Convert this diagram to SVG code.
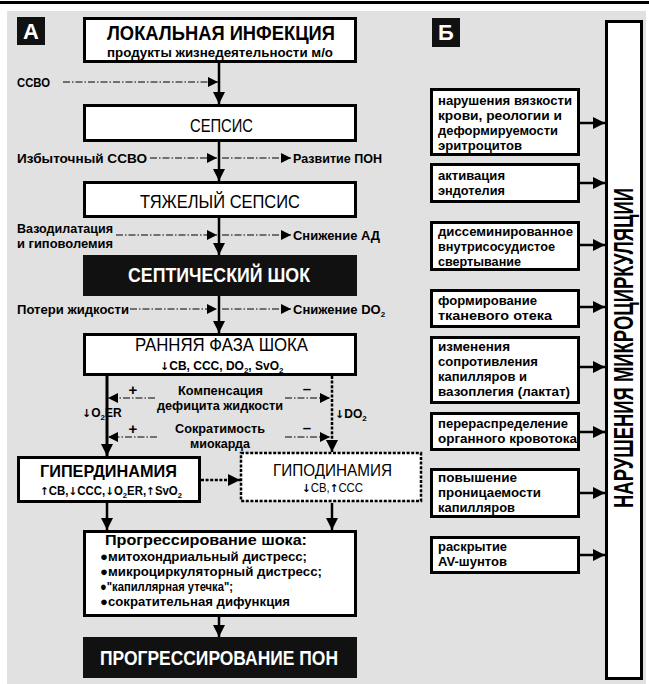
<svg xmlns="http://www.w3.org/2000/svg" width="649" height="684" viewBox="0 0 649 684">
  <defs>
    <style>
      text { font-family: "Liberation Sans", "DejaVu Sans", sans-serif; fill: #000; }
      .b { font-weight: 700; }
      .w { fill: #fff; }
      .ar { font-family: "DejaVu Sans", sans-serif; font-weight: 700; }
      .box { fill: #fff; stroke: #000; stroke-width: 3; }
      .dark { fill: #111; stroke: #111; stroke-width: 3; }
      .dotbox { fill: #fff; stroke: #000; stroke-width: 2.5; stroke-dasharray: 3 1.6; }
      .main { stroke: #000; stroke-width: 2.5; fill: none; }
      .thick { stroke: #000; stroke-width: 3; fill: none; }
      .dot { stroke: #000; stroke-width: 2.5; stroke-dasharray: 3 1.6; fill: none; }
      .dd { stroke: #000; stroke-width: 1; stroke-dasharray: 7 2 1.5 2; fill: none; }
      .side { stroke: #000; stroke-width: 2.5; fill: none; }
      .rt { font-weight: 700; font-size: 13px; }
    </style>
    <marker id="ah" viewBox="0 0 10 10" refX="10" refY="5" markerWidth="12" markerHeight="12" markerUnits="userSpaceOnUse" orient="auto">
      <path d="M0,0 L10,5 L0,10 z" fill="#000"/>
    </marker>
    <marker id="ahs" viewBox="0 0 10 10" refX="10" refY="5" markerWidth="10" markerHeight="10" markerUnits="userSpaceOnUse" orient="auto">
      <path d="M0,0 L10,5 L0,10 z" fill="#000"/>
    </marker>
  </defs>

  <!-- page rule and grey panel -->
  <line x1="0" y1="2.5" x2="649" y2="2.5" stroke="#000" stroke-width="3"/>
  <rect x="7" y="11" width="639" height="673" fill="#e1e1e1"/>

  <!-- panel labels -->
  <g id="label-a">
    <rect x="17" y="17" width="28" height="28" fill="#111"/>
    <text x="31" y="39" class="b w" font-size="22" text-anchor="middle">А</text>
  </g>
  <g id="label-b">
    <rect x="432" y="18" width="28" height="29" fill="#111"/>
    <text x="446" y="40" class="b w" font-size="22" text-anchor="middle">Б</text>
  </g>

  <!-- connectors -->
  <g id="connectors">
    <!-- main axis -->
    <line class="main" x1="219" y1="62" x2="219" y2="104" marker-end="url(#ah)"/>
    <line class="main" x1="219" y1="142" x2="219" y2="181" marker-end="url(#ah)"/>
    <line class="main" x1="219" y1="218" x2="219" y2="255" marker-end="url(#ah)"/>
    <line class="main" x1="219" y1="296" x2="219" y2="333" marker-end="url(#ah)"/>
    <line class="main" x1="219" y1="617" x2="219" y2="637" marker-end="url(#ah)"/>

    <!-- side influences -->
    <line class="dd" x1="63" y1="82" x2="218" y2="82" marker-end="url(#ahs)"/>
    <line class="dd" x1="150" y1="158" x2="217" y2="158" marker-end="url(#ahs)"/>
    <line class="dd" x1="222" y1="158" x2="291" y2="158" marker-end="url(#ahs)"/>
    <line class="dd" x1="116" y1="235" x2="217" y2="235" marker-end="url(#ahs)"/>
    <line class="dd" x1="222" y1="235" x2="291" y2="235" marker-end="url(#ahs)"/>
    <line class="dd" x1="130" y1="309" x2="217" y2="309" marker-end="url(#ahs)"/>
    <line class="dd" x1="222" y1="309" x2="291" y2="309" marker-end="url(#ahs)"/>

    <!-- early shock branches -->
    <line class="thick" x1="107" y1="376" x2="107" y2="456" marker-end="url(#ah)"/>
    <line class="dot" x1="332" y1="376" x2="332" y2="452" marker-end="url(#ah)"/>
    <line class="dd" x1="155" y1="398" x2="108" y2="398" marker-end="url(#ahs)"/>
    <line class="dd" x1="285" y1="398" x2="330" y2="398" marker-end="url(#ahs)"/>
    <line class="dd" x1="157" y1="437" x2="108" y2="437" marker-end="url(#ahs)"/>
    <line class="dd" x1="285" y1="437" x2="330" y2="437" marker-end="url(#ahs)"/>
    <line class="dot" x1="201" y1="480" x2="240" y2="480" marker-end="url(#ah)"/>
    <line class="main" x1="107" y1="503" x2="107" y2="530" marker-end="url(#ah)"/>
    <line class="main" x1="332" y1="503" x2="332" y2="530" marker-end="url(#ah)"/>

    <!-- microcirculation factors -->
    <line class="side" x1="580" y1="123" x2="605" y2="123" marker-end="url(#ah)"/>
    <line class="side" x1="580" y1="183" x2="605" y2="183" marker-end="url(#ah)"/>
    <line class="side" x1="580" y1="245" x2="605" y2="245" marker-end="url(#ah)"/>
    <line class="side" x1="580" y1="307" x2="605" y2="307" marker-end="url(#ah)"/>
    <line class="side" x1="580" y1="367" x2="605" y2="367" marker-end="url(#ah)"/>
    <line class="side" x1="580" y1="432" x2="605" y2="432" marker-end="url(#ah)"/>
    <line class="side" x1="580" y1="493" x2="605" y2="493" marker-end="url(#ah)"/>
    <line class="side" x1="580" y1="555" x2="605" y2="555" marker-end="url(#ah)"/>
  </g>

  <!-- connector labels -->
  <g id="connector-labels">
    <text x="17" y="87" class="b" font-size="12" textLength="33" lengthAdjust="spacingAndGlyphs">ССВО</text>
    <text x="17" y="163" class="b" font-size="13" textLength="130" lengthAdjust="spacingAndGlyphs">Избыточный ССВО</text>
    <text x="293" y="163" class="b" font-size="13" textLength="89" lengthAdjust="spacingAndGlyphs">Развитие ПОН</text>
    <text x="17" y="233" class="b" font-size="13" textLength="96" lengthAdjust="spacingAndGlyphs">Вазодилатация</text>
    <text x="17" y="248" class="b" font-size="13" textLength="96" lengthAdjust="spacingAndGlyphs">и гиповолемия</text>
    <text x="293" y="240" class="b" font-size="13" textLength="87" lengthAdjust="spacingAndGlyphs">Снижение АД</text>
    <text x="17" y="314" class="b" font-size="13" textLength="112" lengthAdjust="spacingAndGlyphs">Потери жидкости</text>
    <text x="293" y="314" class="b" font-size="13">Снижение DO<tspan font-size="8" dy="3">2</tspan></text>

    <text x="82" y="417" class="b" font-size="12"><tspan class="ar" font-size="11">↓</tspan>O<tspan font-size="8" dy="3">2</tspan><tspan dy="-3">ER</tspan></text>
    <text x="335" y="418" class="b" font-size="12"><tspan class="ar" font-size="11">↓</tspan>DO<tspan font-size="8" dy="3">2</tspan></text>

    <text x="133" y="395" class="b" font-size="15" text-anchor="middle">+</text>
    <text x="307" y="394" class="b" font-size="15" text-anchor="middle">–</text>
    <text x="133" y="434" class="b" font-size="15" text-anchor="middle">+</text>
    <text x="307" y="433" class="b" font-size="15" text-anchor="middle">–</text>
    <text x="178" y="395" class="b" font-size="13" textLength="85" lengthAdjust="spacingAndGlyphs">Компенсация</text>
    <text x="157" y="410" class="b" font-size="13" textLength="126" lengthAdjust="spacingAndGlyphs">дефицита жидкости</text>
    <text x="175" y="433" class="b" font-size="13" textLength="90" lengthAdjust="spacingAndGlyphs">Сократимость</text>
    <text x="190" y="448" class="b" font-size="13" textLength="60" lengthAdjust="spacingAndGlyphs">миокарда</text>
  </g>

  <!-- left column nodes -->
  <g id="local-infection">
    <rect class="box" x="84.5" y="18.5" width="271" height="43"/>
    <text x="107" y="40" class="b" font-size="20" textLength="228" lengthAdjust="spacingAndGlyphs">ЛОКАЛЬНАЯ ИНФЕКЦИЯ</text>
    <text x="107" y="57" class="b" font-size="12" textLength="226" lengthAdjust="spacingAndGlyphs">продукты жизнедеятельности м/о</text>
  </g>
  <g id="sepsis">
    <rect class="box" x="84.5" y="105.5" width="271" height="35"/>
    <text x="190" y="132" font-size="19" textLength="63" lengthAdjust="spacingAndGlyphs">СЕПСИС</text>
  </g>
  <g id="severe-sepsis">
    <rect class="box" x="84.5" y="182.5" width="271" height="34"/>
    <text x="140" y="208" font-size="19" textLength="160" lengthAdjust="spacingAndGlyphs">ТЯЖЕЛЫЙ СЕПСИС</text>
  </g>
  <g id="septic-shock">
    <rect class="dark" x="84.5" y="256.5" width="271" height="38"/>
    <text x="128" y="282" class="b w" font-size="20" textLength="182" lengthAdjust="spacingAndGlyphs">СЕПТИЧЕСКИЙ ШОК</text>
  </g>
  <g id="early-shock">
    <rect class="box" x="84.5" y="334.5" width="271" height="40"/>
    <text x="135" y="351" font-size="18" textLength="173" lengthAdjust="spacingAndGlyphs">РАННЯЯ ФАЗА ШОКА</text>
    <text x="160" y="370" class="b" font-size="12"><tspan class="ar" font-size="11">↓</tspan>CB, CCC, DO<tspan font-size="8" dy="2.5">2</tspan><tspan dy="-2.5">, SvO</tspan><tspan font-size="8" dy="2.5">2</tspan></text>
  </g>
  <g id="hyperdynamic">
    <rect class="box" x="18.5" y="457.5" width="181" height="44"/>
    <text x="40" y="477" class="b" font-size="17" textLength="137" lengthAdjust="spacingAndGlyphs">ГИПЕРДИНАМИЯ</text>
    <text x="40" y="495" class="b" font-size="12" textLength="142" lengthAdjust="spacingAndGlyphs"><tspan class="ar" font-size="11">↑</tspan>CB,<tspan class="ar" font-size="11">↓</tspan>CCC,<tspan class="ar" font-size="11">↓</tspan>O<tspan font-size="8" dy="2.5">2</tspan><tspan dy="-2.5">ER,</tspan><tspan class="ar" font-size="11">↑</tspan>SvO<tspan font-size="8" dy="2.5">2</tspan></text>
  </g>
  <g id="hypodynamic">
    <rect class="dotbox" x="241" y="453" width="180" height="48"/>
    <text x="273" y="476" font-size="16" textLength="119" lengthAdjust="spacingAndGlyphs">ГИПОДИНАМИЯ</text>
    <text x="302" y="492" font-size="12" textLength="61" lengthAdjust="spacingAndGlyphs"><tspan class="ar" font-size="11">↓</tspan>CB,<tspan class="ar" font-size="11">↑</tspan>CCC</text>
  </g>
  <g id="shock-progression">
    <rect class="box" x="84.5" y="531.5" width="271" height="84"/>
    <text x="105" y="545" class="b" font-size="14" textLength="202" lengthAdjust="spacingAndGlyphs">Прогрессирование шока:</text>
    <text x="100" y="561" class="b" font-size="13" textLength="207" lengthAdjust="spacingAndGlyphs">●митохондриальный дистресс;</text>
    <text x="100" y="576" class="b" font-size="13" textLength="222" lengthAdjust="spacingAndGlyphs">●микроциркуляторный дистресс;</text>
    <text x="100" y="591" class="b" font-size="13" textLength="133" lengthAdjust="spacingAndGlyphs">●"капиллярная утечка";</text>
    <text x="100" y="606" class="b" font-size="13" textLength="190" lengthAdjust="spacingAndGlyphs">●сократительная дифункция</text>
  </g>
  <g id="mods-progression">
    <rect class="dark" x="84.5" y="638.5" width="271" height="38"/>
    <text x="100" y="665" class="b w" font-size="20" textLength="238" lengthAdjust="spacingAndGlyphs">ПРОГРЕССИРОВАНИЕ ПОН</text>
  </g>

  <!-- right column nodes -->
  <g id="viscosity">
    <rect class="box" x="431.5" y="89.5" width="147" height="65"/>
    <text x="438" y="105" class="rt" textLength="134" lengthAdjust="spacingAndGlyphs">нарушения вязкости</text>
    <text x="438" y="120" class="rt" textLength="124" lengthAdjust="spacingAndGlyphs">крови, реологии и</text>
    <text x="438" y="135" class="rt" textLength="120" lengthAdjust="spacingAndGlyphs">деформируемости</text>
    <text x="438" y="150" class="rt" textLength="84" lengthAdjust="spacingAndGlyphs">эритроцитов</text>
  </g>
  <g id="endothelium">
    <rect class="box" x="431.5" y="164.5" width="147" height="37"/>
    <text x="438" y="180" class="rt" textLength="67" lengthAdjust="spacingAndGlyphs">активация</text>
    <text x="438" y="195" class="rt" textLength="67" lengthAdjust="spacingAndGlyphs">эндотелия</text>
  </g>
  <g id="dic">
    <rect class="box" x="431.5" y="222.5" width="147" height="47"/>
    <text x="438" y="236" class="rt" textLength="135" lengthAdjust="spacingAndGlyphs">диссеминированное</text>
    <text x="438" y="251" class="rt" textLength="117" lengthAdjust="spacingAndGlyphs">внутрисосудистое</text>
    <text x="438" y="266" class="rt" textLength="83" lengthAdjust="spacingAndGlyphs">свертывание</text>
  </g>
  <g id="edema">
    <rect class="box" x="431.5" y="290.5" width="147" height="36"/>
    <text x="438" y="305" class="rt" textLength="99" lengthAdjust="spacingAndGlyphs">формирование</text>
    <text x="438" y="320" class="rt" textLength="114" lengthAdjust="spacingAndGlyphs">тканевого отека</text>
  </g>
  <g id="resistance">
    <rect class="box" x="431.5" y="337.5" width="147" height="65"/>
    <text x="438" y="351" class="rt" textLength="72" lengthAdjust="spacingAndGlyphs">изменения</text>
    <text x="438" y="366" class="rt" textLength="100" lengthAdjust="spacingAndGlyphs">сопротивления</text>
    <text x="438" y="381" class="rt" textLength="89" lengthAdjust="spacingAndGlyphs">капилляров и</text>
    <text x="438" y="396" class="rt" textLength="132" lengthAdjust="spacingAndGlyphs">вазоплегия (лактат)</text>
  </g>
  <g id="redistribution">
    <rect class="box" x="431.5" y="413.5" width="147" height="36"/>
    <text x="438" y="428" class="rt" textLength="130" lengthAdjust="spacingAndGlyphs">перераспределение</text>
    <text x="438" y="443" class="rt" textLength="139" lengthAdjust="spacingAndGlyphs">органного кровотока</text>
  </g>
  <g id="permeability">
    <rect class="box" x="431.5" y="469.5" width="147" height="47"/>
    <text x="438" y="482" class="rt" textLength="79" lengthAdjust="spacingAndGlyphs">повышение</text>
    <text x="438" y="497" class="rt" textLength="103" lengthAdjust="spacingAndGlyphs">проницаемости</text>
    <text x="438" y="512" class="rt" textLength="77" lengthAdjust="spacingAndGlyphs">капилляров</text>
  </g>
  <g id="av-shunts">
    <rect class="box" x="431.5" y="537.5" width="147" height="35"/>
    <text x="438" y="551" class="rt" textLength="69" lengthAdjust="spacingAndGlyphs">раскрытие</text>
    <text x="438" y="566" class="rt" textLength="69" lengthAdjust="spacingAndGlyphs">AV-шунтов</text>
  </g>
  <g id="microcirculation">
    <rect class="box" x="606.5" y="21.5" width="35" height="657"/>
    <text transform="translate(633,348) rotate(-90)" class="b" font-size="28" text-anchor="middle" textLength="320" lengthAdjust="spacingAndGlyphs">НАРУШЕНИЯ  МИКРОЦИРКУЛЯЦИИ</text>
  </g>
</svg>
